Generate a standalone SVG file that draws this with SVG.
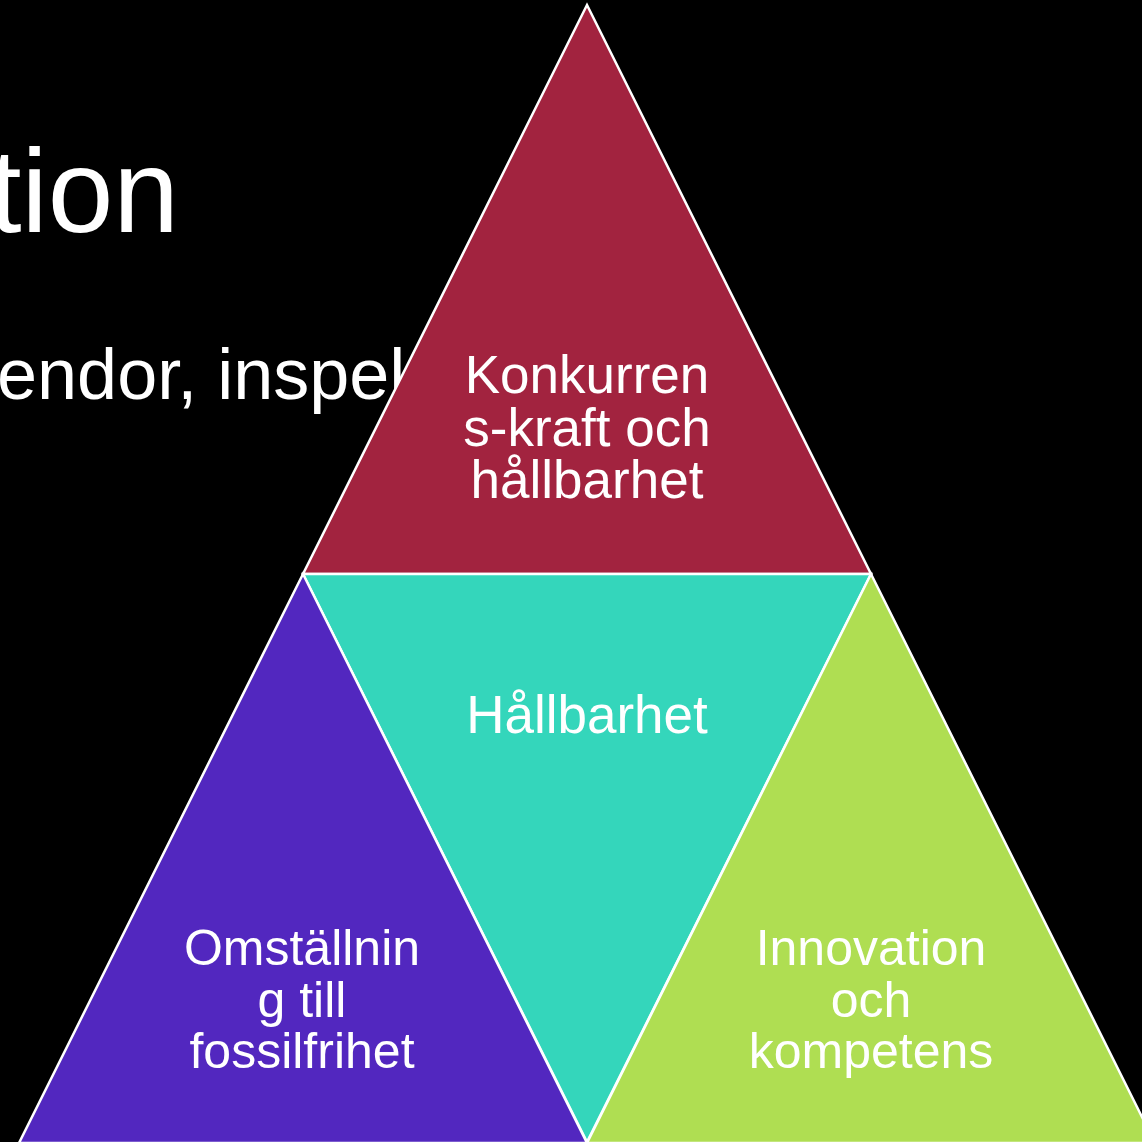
<svg xmlns="http://www.w3.org/2000/svg" width="1142" height="1142" viewBox="0 0 1142 1142">
<style>
.bg{fill:#000}
.tri{stroke:#fff;stroke-width:2.5;stroke-linejoin:miter}
.lbl{font-family:"Liberation Sans",Arial,sans-serif;font-size:50px;fill:#fff;text-anchor:middle}
.big{font-size:53px}
.title{font-family:"Liberation Sans",Arial,sans-serif;fill:#fff}
</style>
<rect class="bg" x="0" y="0" width="1142" height="1142"/>
<g id="title">
<text class="title" x="179" y="232" font-size="118" text-anchor="end">tion</text>
<text class="title" x="-3" y="399" font-size="72">endor, inspek</text>
</g>
<g id="node-top">
<polygon class="tri" fill="#A2233F" points="587,5 303,574 871,574"/>
<text class="lbl big" x="587" y="393">Konkurren</text>
<text class="lbl big" x="587" y="446">s-kraft och</text>
<text class="lbl big" x="587" y="498">hållbarhet</text>
</g>
<g id="node-center">
<polygon class="tri" fill="#34D6BB" points="303,574 871,574 587,1142"/>
<text class="lbl big" x="587" y="733">Hållbarhet</text>
</g>
<g id="node-left">
<polygon class="tri" fill="#5227BF" points="303,574 19,1143 587,1143"/>
<text class="lbl" x="302" y="965">Omställnin</text>
<text class="lbl" x="302" y="1017">g till</text>
<text class="lbl" x="302" y="1068">fossilfrihet</text>
</g>
<g id="node-right">
<polygon class="tri" fill="#AFDE52" points="871,574 587,1143 1155,1143"/>
<text class="lbl" x="871" y="965">Innovation</text>
<text class="lbl" x="871" y="1017">och</text>
<text class="lbl" x="871" y="1068">kompetens</text>
</g>
<g id="connectors"></g>
</svg>
